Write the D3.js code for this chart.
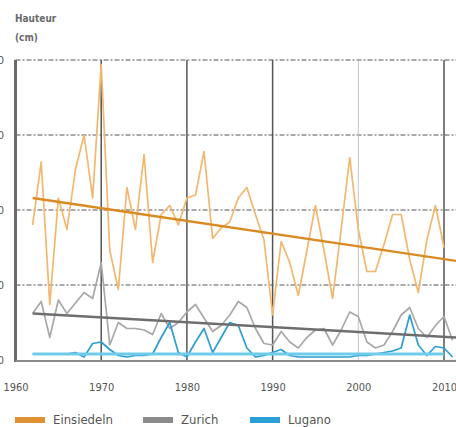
<!DOCTYPE html>
<html>
<head>
<meta charset="utf-8">
<script src="https://cdn.jsdelivr.net/npm/d3@7"></script>
<style>
  html, body { margin: 0; padding: 0; background: #fff; }
  svg { display: block; }
  text { font-stretch: condensed; }
</style>
</head>
<body>
<div id="chart"></div>
<script>
// Snow depth series, one value per winter
const years = d3.range(1962, 2011);          // 1962..2010
const yearsLong = d3.range(1962, 2012);      // 1962..2011

const einsiedeln = [90, 132, 37, 108, 87, 127, 150, 108, 197, 73,
    47, 115, 87, 137, 65, 97, 103, 90, 108, 110,
    139, 81, 88, 92, 108, 115, 97, 80, 30, 79,
    65, 43, 73, 103, 73, 41, 87, 135, 87, 59,
    59, 77, 97, 97, 67, 45, 80, 103, 75];

const zurich = [31, 39, 15, 40, 31, 38, 45, 41, 65, 10,
    25, 21, 21, 20, 17, 31, 21, 25, 32, 37,
    28, 19, 23, 30, 39, 35, 21, 11, 10, 19,
    12, 8, 15, 20, 21, 10, 20, 32, 29, 12,
    8, 10, 19, 30, 35, 21, 15, 23, 29, 13];

const lugano = [4, 4, 4, 4, 4, 5, 2, 11, 12, 7,
    3, 2, 3, 3, 4, 15, 25, 5, 2, 12,
    21, 5, 15, 25, 23, 8, 2, 3, 5, 7,
    3, 2, 2, 2, 2, 2, 2, 2, 3, 3,
    4, 5, 6, 8, 30, 10, 3, 9, 8, 2];

// linear trends: [year, value] at start and end
const trendEinsiedeln = [[1962, 108], [2011.5, 66]];
const trendZurich = [[1962, 31], [2011.5, 15]];
const trendLugano = [[1962, 4], [2010, 4]];

const yTicks = [0, 50, 100, 150, 200];
const xTicks = [1960, 1970, 1980, 1990, 2000, 2010];
const legendItems = ["Einsiedeln", "Zurich", "Lugano"];

const colors = {
    Einsiedeln: { line: "#f3b76f", trend: "#d98a22", key: "#df9133" },
    Zurich: { line: "#a8a8a8", trend: "#6e6e6e", key: "#8a8a8a" },
    Lugano: { line: "#2c9ed3", trend: "#6ecbe9", key: "#2a9fd6" }
};

const width = 456, height = 427;
const font = "'DejaVu Sans', 'Liberation Sans', sans-serif";

const svg = d3.select("#chart").append("svg")
    .attr("width", width)
    .attr("height", height);

const x = d3.scaleLinear().domain([1960, 2010]).range([15.5, 444]);
const y = d3.scaleLinear().domain([0, 200]).range([360, 60]);

// Axis title
svg.append("text").attr("x", 15).attr("y", 22)
    .attr("font-family", font).attr("font-size", 10).attr("font-weight", "bold").attr("fill", "#6a6a6a")
    .text("Hauteur");
svg.append("text").attr("x", 15).attr("y", 41)
    .attr("font-family", font).attr("font-size", 10).attr("font-weight", "bold").attr("fill", "#6a6a6a")
    .text("(cm)");

// Horizontal grid (dash-dot)
svg.append("g")
    .selectAll("line")
    .data(yTicks.filter(d => d > 0))
    .join("line")
    .attr("x1", x(1960)).attr("x2", width)
    .attr("y1", d => y(d)).attr("y2", d => y(d))
    .attr("stroke", "#555")
    .attr("stroke-width", 1.2)
    .attr("stroke-dasharray", "5,2,2,2");

// Vertical grid
svg.append("g")
    .selectAll("line")
    .data(xTicks.filter(d => d > 1960))
    .join("line")
    .attr("x1", d => x(d)).attr("x2", d => x(d))
    .attr("y1", y(200)).attr("y2", y(0))
    .attr("stroke", d => d === 2000 ? "#c4c4c4" : "#555")
    .attr("stroke-width", d => d === 2000 ? 1 : 1.5);

// Y tick labels (cut off on the left edge, as in the source)
svg.append("g")
    .selectAll("text")
    .data(yTicks)
    .join("text")
    .attr("x", 4).attr("y", d => y(d) + 4)
    .attr("text-anchor", "end")
    .attr("font-family", font).attr("font-size", 11).attr("fill", "#555")
    .text(d => d);

// X axis labels
const xAxis = d3.axisBottom(x).tickValues(xTicks).tickSize(0).tickFormat(d3.format("d"));
const gx = svg.append("g")
    .attr("transform", `translate(0,${y(0) + 20})`)
    .call(xAxis);
gx.select(".domain").remove();
gx.selectAll("text")
    .attr("font-family", font).attr("font-size", 11).attr("fill", "#555");

// Data lines
const line = d3.line().x(d => x(d[0])).y(d => y(d[1]));

const series = [
    { name: "Einsiedeln", yrs: years, vals: einsiedeln },
    { name: "Zurich", yrs: yearsLong, vals: zurich },
    { name: "Lugano", yrs: yearsLong, vals: lugano }
];

series.forEach(s => {
    svg.append("path")
        .datum(s.yrs.map((yr, i) => [yr, s.vals[i]]))
        .attr("d", line)
        .attr("fill", "none")
        .attr("stroke", colors[s.name].line)
        .attr("stroke-width", 1.7)
        .attr("stroke-linejoin", "round");
});

// Trend lines
[["Einsiedeln", trendEinsiedeln], ["Zurich", trendZurich], ["Lugano", trendLugano]]
    .forEach(([name, pts]) => {
        svg.append("path")
            .datum(pts)
            .attr("d", line)
            .attr("fill", "none")
            .attr("stroke", colors[name].trend)
            .attr("stroke-width", name === "Lugano" ? 3 : 2.4);
    });

// Axis frame: left and bottom
svg.append("line")
    .attr("x1", x(1960)).attr("x2", x(1960))
    .attr("y1", y(200)).attr("y2", y(0) + 2)
    .attr("stroke", "#6a6a6a").attr("stroke-width", 3);
svg.append("line")
    .attr("x1", x(1960)).attr("x2", width)
    .attr("y1", y(0) + 1).attr("y2", y(0) + 1)
    .attr("stroke", "#8a8a8a").attr("stroke-width", 2);

// Legend
const legendX = [15, 143, 250];
const lg = svg.append("g");
legendItems.forEach((name, i) => {
    lg.append("rect")
        .attr("x", legendX[i]).attr("y", 417)
        .attr("width", 30).attr("height", 6)
        .attr("fill", colors[name].key);
    lg.append("text")
        .attr("x", legendX[i] + 38).attr("y", 424)
        .attr("font-family", font).attr("font-size", 13).attr("fill", "#555")
        .text(name);
});
</script>
</body>
</html>
